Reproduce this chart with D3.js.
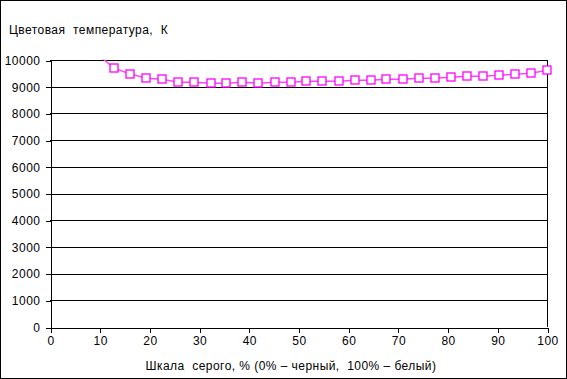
<!DOCTYPE html>
<html><head><meta charset="utf-8">
<script src="https://cdn.jsdelivr.net/npm/d3@7"></script>
<style>
html,body{margin:0;padding:0;background:#fff;}
text{font-family:Arial,"Liberation Sans",sans-serif;font-size:12px;fill:#000;white-space:pre;}
</style></head>
<body>
<svg id="chart" width="567" height="379"></svg>
<script>
const grayPercent = [9.7, 12.9, 16.1, 19.4, 22.6, 25.8, 29.0, 32.3, 35.5, 38.7, 41.9, 45.2, 48.4, 51.6, 54.8, 58.1, 61.3, 64.5, 67.7, 71.0, 74.2, 77.4, 80.6, 83.9, 87.1, 90.3, 93.5, 96.8, 100];
const colorTemp = [10200, 9690, 9480, 9320, 9280, 9165, 9165, 9130, 9130, 9165, 9130, 9165, 9165, 9205, 9205, 9205, 9240, 9240, 9280, 9280, 9315, 9315, 9350, 9390, 9390, 9430, 9465, 9500, 9615];
const yTicks = [0, 1000, 2000, 3000, 4000, 5000, 6000, 7000, 8000, 9000, 10000];
const xTicks = [0, 10, 20, 30, 40, 50, 60, 70, 80, 90, 100];
const yTitle = "Цветовая  температура,  К";
const xTitle = "Шкала  серого, % (0% – черный,  100% – белый)";

const svg = d3.select("#chart");
const W = 567, H = 379;
const L = 50, R = 547, T = 60, B = 327;

svg.append("rect").attr("x",0.5).attr("y",0.5).attr("width",W-1).attr("height",H-1)
  .attr("fill","#fff").attr("stroke","#000").attr("stroke-width",1);

const x = d3.scaleLinear().domain([0,100]).range([L,R]);
const y = d3.scaleLinear().domain([0,10000]).range([B,T]);

svg.append("g").selectAll("line").data(yTicks.filter(d=>d>0)).join("line")
  .attr("x1",L).attr("x2",R).attr("y1",d=>Math.round(y(d))+0.5).attr("y2",d=>Math.round(y(d))+0.5)
  .attr("stroke","#000").attr("stroke-width",1);
svg.append("line").attr("x1",R+0.5).attr("x2",R+0.5).attr("y1",T).attr("y2",B)
  .attr("stroke","#000");

const ya = svg.append("g").attr("transform",`translate(${L+0.5},0.5)`)
  .call(d3.axisLeft(y).tickValues(yTicks).tickSize(5).tickSizeOuter(0).tickPadding(5).tickFormat(d3.format("d")));
const xa = svg.append("g").attr("transform",`translate(0.5,${B+0.5})`)
  .call(d3.axisBottom(x).tickValues(xTicks).tickSize(5).tickSizeOuter(0).tickPadding(4).tickFormat(d3.format("d")));
[ya,xa].forEach(a=>{
  a.selectAll("path,line").attr("stroke","#000").attr("shape-rendering","crispEdges");
  a.selectAll("text").attr("font-size",12).attr("font-family","Arial, 'Liberation Sans', sans-serif").attr("fill","#000").style("letter-spacing","0.5px");
});

svg.append("defs").append("clipPath").attr("id","clip")
  .append("rect").attr("x",L).attr("y",T-0.5).attr("width",R-L+6).attr("height",B-T+1);

const pts = grayPercent.map((g,i)=>({g, v: colorTemp[i]}));
const line = d3.line().x(d=>x(d.g)).y(d=>y(d.v));
const plot = svg.append("g");
plot.append("path").datum(pts).attr("d",line).attr("fill","none")
  .attr("stroke","#ff44ff").attr("stroke-width",1.5).attr("clip-path","url(#clip)");
plot.selectAll("rect.m").data(pts.filter(d=>d.v<=10000)).join("rect")
  .attr("class","m")
  .attr("x",d=>Math.round(x(d.g))-4).attr("y",d=>Math.round(y(d.v))-4)
  .attr("width",8).attr("height",8)
  .attr("fill","#fff").attr("stroke","#ff00ff").attr("stroke-width",1.3);

svg.append("text").attr("x",9).attr("y",34).text(yTitle).style("letter-spacing","0.45px");
svg.append("text").attr("x",291).attr("y",370).attr("text-anchor","middle").text(xTitle).style("letter-spacing","0.45px");
</script>
</body></html>
